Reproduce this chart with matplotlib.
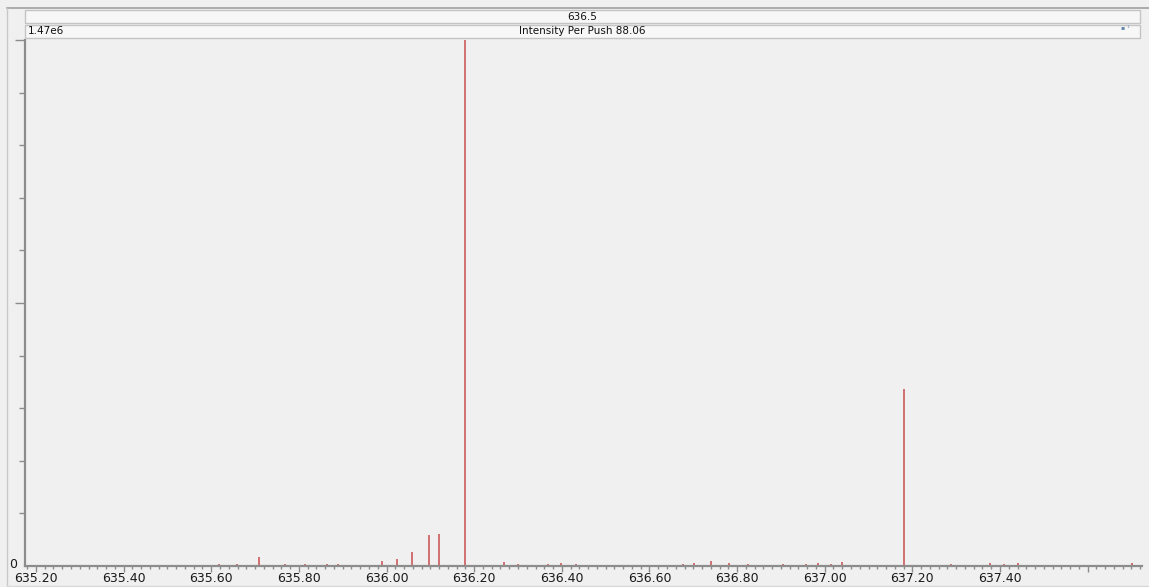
#!/usr/bin/env python
# -*- coding: utf-8 -*-

import matplotlib.pyplot as plt
from matplotlib.patches import Rectangle
from matplotlib.lines import Line2D
from matplotlib.ticker import MultipleLocator, FixedLocator

# peak list (m/z, intensity)
mz = [635.191, 635.250, 635.339, 635.383, 635.431, 635.467, 635.618, 635.659,
      635.710, 635.769, 635.813, 635.865, 635.890, 635.938, 635.989, 636.023,
      636.059, 636.096, 636.119, 636.178, 636.267, 636.299, 636.322, 636.368,
      636.398, 636.432, 636.462, 636.505, 636.535, 636.562, 636.597, 636.626,
      636.677, 636.702, 636.741, 636.782, 636.825, 636.855, 636.905, 636.939,
      636.958, 636.985, 637.015, 637.040, 637.182, 637.289, 637.319, 637.346,
      637.376, 637.408, 637.442, 637.584, 637.605, 637.630, 637.659, 637.701]
intensity = [3e3, 4e3, 4e3, 3e3, 4e3, 4e3, 5e3, 5e3,
             2.4e4, 5e3, 5e3, 5e3, 5e3, 4e3, 1.4e4, 2.0e4,
             3.9e4, 8.7e4, 8.9e4, 1.47e6, 1.25e4, 5e3, 3e3, 5e3,
             8e3, 5e3, 4e3, 4e3, 3e3, 3e3, 3e3, 4e3,
             5e3, 7e3, 1.4e4, 7e3, 5e3, 4e3, 5e3, 4e3,
             6e3, 8e3, 5e3, 1.25e4, 4.95e5, 5e3, 4e3, 4e3,
             8e3, 5e3, 8e3, 4e3, 4e3, 4e3, 4e3, 8e3]

x_ticks = [635.2, 635.4, 635.6, 635.8, 636.0, 636.2, 636.4, 636.6, 636.8, 637.0, 637.2, 637.4]
x_tick_labels = ['635.20', '635.40', '635.60', '635.80', '636.00', '636.20',
                 '636.40', '636.60', '636.80', '637.00', '637.20', '637.40']

y_max = 1.47e6
y_max_label = '1.47e6'
x_lim = (635.175, 637.724)
header_mz = '636.5'
header_title = 'Intensity Per Push 88.06'

W, H = 1149, 587
bg = '#f0f0f0'
grey = '#8c8c8c'

plt.rcParams['font.family'] = ['DejaVu Sans']

fig = plt.figure( figsize = ( W / 100, H / 100 ), dpi = 100, facecolor = bg )

def fx( px ):
    return px / W

def fy( py ):
    return 1 - py / H

ax = fig.add_axes( [ fx(25), fy(566), fx(1142) - fx(25), fy(40) - fy(566) ] )
ax.set_facecolor( bg )

ax.vlines( mz, 0, intensity, color = '#cc5a5a', linewidth = 1.2 )

ax.set_xlim( *x_lim )
ax.set_ylim( 0, y_max )

for s in ( 'top', 'right' ):
    ax.spines[s].set_visible( False )
for s in ( 'left', 'bottom' ):
    ax.spines[s].set_color( grey )
    ax.spines[s].set_linewidth( 1.6 )

# major ticks run past the last label, as in the original
ax.xaxis.set_major_locator( FixedLocator( x_ticks + [ 637.6 ] ) )
ax.set_xticklabels( x_tick_labels + [ '' ] )
ax.xaxis.set_minor_locator( MultipleLocator( 0.02 ) )
ax.tick_params( axis = 'x', which = 'major', length = 4.5, width = 1, color = grey,
                labelsize = 9, labelcolor = '#1a1a1a', pad = -0.5 )
ax.tick_params( axis = 'x', which = 'minor', length = 2.5, width = 1, color = grey )

ax.set_yticks( [ 0, y_max / 2, y_max ] )
ax.set_yticklabels( [ '', '', '' ] )
ax.yaxis.set_minor_locator( MultipleLocator( y_max / 10 ) )
ax.tick_params( axis = 'y', which = 'major', length = 7, width = 1, color = grey )
ax.tick_params( axis = 'y', which = 'minor', length = 4, width = 1, color = grey )
ax.yaxis.get_major_ticks()[0].tick1line.set_visible( False )

fig.text( fx(13.5), fy(565), '0', ha = 'center', va = 'center', fontsize = 9, color = '#1a1a1a' )

# header bars
for top, bottom in ( ( 10, 23 ), ( 25, 38 ) ):
    fig.patches.append( Rectangle( ( fx(25), fy(bottom) ), fx(1140) - fx(25), fy(top) - fy(bottom),
                                   transform = fig.transFigure, facecolor = '#f7f7f7',
                                   edgecolor = '#c4c4c4', linewidth = 1 ) )

fig.text( fx(582), fy(16.5), header_mz, ha = 'center', va = 'center', fontsize = 7.5, color = '#111111' )
fig.text( fx(582), fy(31.5), header_title, ha = 'center', va = 'center', fontsize = 7.5, color = '#111111' )
fig.text( fx(28), fy(31.5), y_max_label, ha = 'left', va = 'center', fontsize = 7.5, color = '#111111' )
fig.text( fx(1125), fy(28), '▪ ¹', ha = 'center', va = 'center', fontsize = 4.5, color = '#6688aa' )

# outer frame lines
fig.lines.append( Line2D( [ fx(7), 1 ], [ fy(8), fy(8) ], transform = fig.transFigure,
                          color = '#a0a0a0', linewidth = 1.2 ) )
fig.lines.append( Line2D( [ fx(7), fx(7) ], [ fy(8), fy(585) ], transform = fig.transFigure,
                          color = '#c8c8c8', linewidth = 1 ) )
fig.lines.append( Line2D( [ fx(7), 1 ], [ fy(585.5), fy(585.5) ], transform = fig.transFigure,
                          color = '#d8d8d8', linewidth = 1 ) )

fig.savefig( 'out.png', dpi = 100, facecolor = bg )
